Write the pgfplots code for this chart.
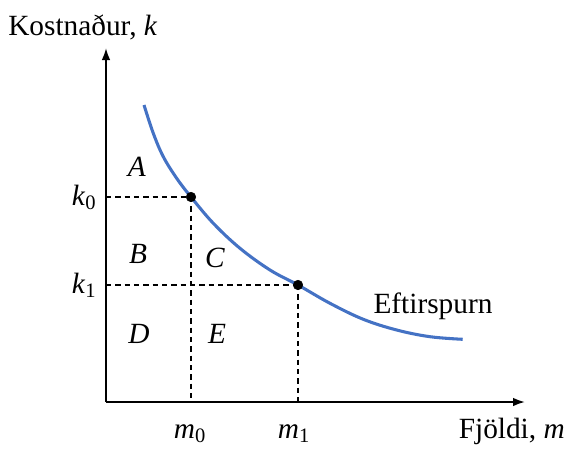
\documentclass[border=0pt]{standalone}
\usepackage{pgfplots}
\pgfplotsset{compat=1.18}
\usepackage{fontspec}
\setmainfont{Liberation Serif}
\usetikzlibrary{arrows.meta}
\definecolor{curveblue}{RGB}{68,114,196}
\begin{document}
\fontsize{22}{26}\selectfont
\begin{tikzpicture}
\begin{axis}[
  x=0.75pt, y=0.75pt,
  xmin=0, xmax=419, ymin=0, ymax=354,
  axis lines=left,
  axis line style={line width=1.5pt, -{Latex[length=9pt,width=6.5pt]}},
  xtick=\empty, ytick=\empty,
  clip=false,
  scale only axis,
]
\path (axis cs:-106,-44) rectangle (axis cs:464,402);
% dashed guides
\addplot[black, line width=1pt, dash pattern=on 4pt off 3pt] coordinates {(0,205) (85,205)};
\addplot[black, line width=1pt, dash pattern=on 4pt off 3pt] coordinates {(85,205) (85,0)};
\addplot[black, line width=1pt, dash pattern=on 4pt off 3pt] coordinates {(0,117) (192,117)};
\addplot[black, line width=1pt, dash pattern=on 4pt off 3pt] coordinates {(192,117) (192,0)};
% demand curve
\addplot[curveblue, line width=2.3pt, smooth, tension=0.6] coordinates {
 (38,297) (47.3,268.7) (57.3,245.3) (70.7,223.7) (85,205) (107.3,178.7)
 (134,153.7) (164,132) (192,117) (224,98.7) (257.3,82.7) (290.7,72)
 (324,65.3) (356.7,62.7)};
% points
\addplot[only marks, mark=*, mark size=3.6pt, black] coordinates {(85,205) (192,117)};
% labels
\node[anchor=base west, inner sep=0pt] at (axis cs:-98,367) {Kostnaður, \textit{k}};
\node[anchor=base east, inner sep=0pt] at (axis cs:459,-36) {Fjöldi, \textit{m}};
\node[anchor=base] at (axis cs:84,-36) {\textit{m}\textsubscript{0}};
\node[anchor=base] at (axis cs:188,-36) {\textit{m}\textsubscript{1}};
\node[anchor=base] at (axis cs:-22,197) {\textit{k}\textsubscript{0}};
\node[anchor=base] at (axis cs:-22,109) {\textit{k}\textsubscript{1}};
\node[anchor=base] at (axis cs:31,226) {\textit{A}};
\node[anchor=base] at (axis cs:32,139) {\textit{B}};
\node[anchor=base] at (axis cs:109,135) {\textit{C}};
\node[anchor=base] at (axis cs:33,59) {\textit{D}};
\node[anchor=base] at (axis cs:111,59) {\textit{E}};
\node[anchor=base] at (axis cs:327,89) {Eftirspurn};
\end{axis}
\end{tikzpicture}
\end{document}
